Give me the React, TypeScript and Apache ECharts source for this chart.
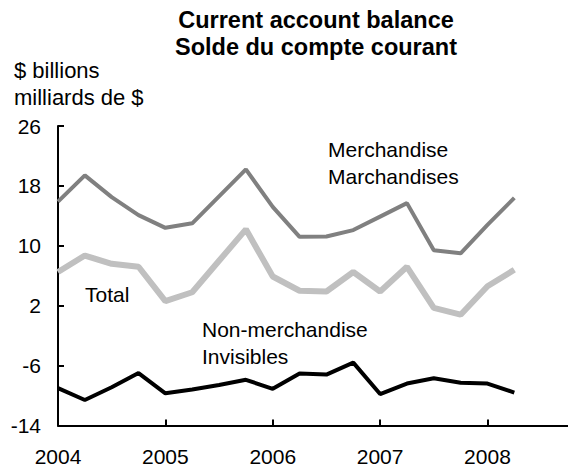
import React, { useEffect, useRef } from "react";
import * as echarts from "echarts";

const quarters = [
  "2004Q1", "2004Q2", "2004Q3", "2004Q4",
  "2005Q1", "2005Q2", "2005Q3", "2005Q4",
  "2006Q1", "2006Q2", "2006Q3", "2006Q4",
  "2007Q1", "2007Q2", "2007Q3", "2007Q4",
  "2008Q1", "2008Q2",
];
const merchandise = [15.9, 19.4, 16.5, 14.1, 12.4, 13.0, 16.6, 20.2, 15.2, 11.2, 11.25, 12.1, 13.9, 15.7, 9.4, 9.0, 12.8, 16.4];
const total = [6.5, 8.7, 7.6, 7.2, 2.6, 3.8, 8.0, 12.2, 5.9, 4.0, 3.9, 6.5, 3.9, 7.2, 1.7, 0.8, 4.6, 6.8];
const nonMerchandise = [-9.0, -10.6, -8.9, -7.0, -9.7, -9.2, -8.6, -7.9, -9.1, -7.05, -7.2, -5.6, -9.8, -8.4, -7.7, -8.3, -8.4, -9.6];
const yTicks = [-14, -6, 2, 10, 18, 26];
const xTicks = [2004, 2005, 2006, 2007, 2008];

const toX = (q: string) => Number(q.slice(0, 4)) + (Number(q.slice(5)) - 1) / 4;
const pairs = (vals: number[]) => quarters.map((q, i) => [toX(q), vals[i]]);

const FONT = "'Liberation Sans', Arial, sans-serif";

export default function App() {
  const ref = useRef<HTMLDivElement>(null);
  useEffect(() => {
    if (!ref.current) return;
    const chart = echarts.init(ref.current, null, { renderer: "svg" });
    const txt = (x: number, y: number, text: string, opts: any = {}) => ({
      type: "text",
      x,
      y,
      style: {
        text,
        fill: "#000",
        fontFamily: FONT,
        fontSize: 21,
        fontWeight: "normal",
        align: "left",
        verticalAlign: "middle",
        ...opts,
      },
    });
    chart.setOption({
      animation: false,
      backgroundColor: "#fff",
      grid: { left: 58, right: -4, top: 126, bottom: 44.5, containLabel: false },
      xAxis: {
        type: "value",
        min: 2004,
        max: 2008.75,
        axisLine: { onZero: false, lineStyle: { color: "#000", width: 2 } },
        axisTick: { inside: true, length: 6, customValues: xTicks, lineStyle: { color: "#000", width: 2 } },
        axisLabel: {
          customValues: xTicks,
          margin: 20,
          color: "#000",
          fontSize: 21,
          fontFamily: FONT,
          formatter: (v: number) => String(v),
        },
        splitLine: { show: false },
      },
      yAxis: {
        type: "value",
        min: -14,
        max: 26,
        axisLine: { show: true, onZero: false, lineStyle: { color: "#000", width: 2 } },
        axisTick: { show: true, inside: true, length: 6, customValues: yTicks, lineStyle: { color: "#000", width: 2 } },
        axisLabel: {
          customValues: yTicks,
          margin: 17,
          color: "#000",
          fontSize: 21,
          fontFamily: FONT,
        },
        splitLine: { show: false },
      },
      series: [
        {
          name: "Total",
          type: "line",
          data: pairs(total),
          showSymbol: false,
          lineStyle: { color: "#c0c0c0", width: 6 },
          itemStyle: { color: "#c0c0c0" },
        },
        {
          name: "Merchandise",
          type: "line",
          data: pairs(merchandise),
          showSymbol: false,
          lineStyle: { color: "#808080", width: 4 },
          itemStyle: { color: "#808080" },
        },
        {
          name: "Non-merchandise",
          type: "line",
          data: pairs(nonMerchandise),
          showSymbol: false,
          lineStyle: { color: "#000", width: 4 },
          itemStyle: { color: "#000" },
        },
      ],
      graphic: [
        txt(316, 20, "Current account balance", { align: "center", fontWeight: "bold", fontSize: 23.5 }),
        txt(316, 47, "Solde du compte courant", { align: "center", fontWeight: "bold", fontSize: 23.5 }),
        txt(14, 70, "$ billions", { fontSize: 22 }),
        txt(14, 97, "milliards de $", { fontSize: 22 }),
        txt(328, 149, "Merchandise"),
        txt(328, 176, "Marchandises"),
        txt(85, 294, "Total"),
        txt(202, 329, "Non-merchandise"),
        txt(202, 356, "Invisibles"),
      ],
    });
    return () => chart.dispose();
  }, []);
  return (
    <div
      ref={ref}
      style={{ position: "fixed", left: 0, top: 0, width: 568, height: 470, background: "#fff" }}
    />
  );
}
